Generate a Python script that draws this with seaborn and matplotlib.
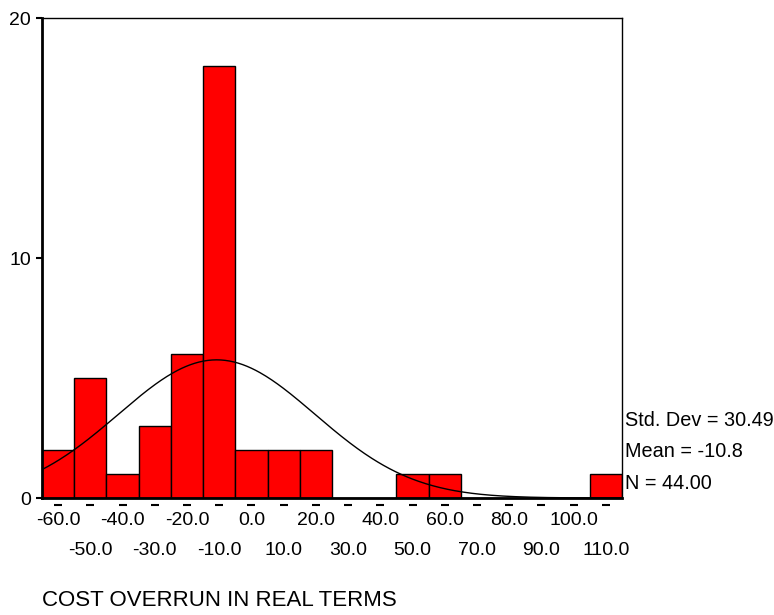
import matplotlib
matplotlib.use("Agg")
import matplotlib.pyplot as plt
import matplotlib.transforms as mtransforms
import numpy as np
import pandas as pd
import seaborn as sns

# bin centres and counts
bin_centers = [-60, -50, -40, -30, -20, -10, 0, 10, 20, 30, 40, 50, 60, 70, 80, 90, 100, 110]
counts = [2, 5, 1, 3, 6, 18, 2, 2, 2, 0, 0, 1, 1, 0, 0, 0, 0, 1]
std_dev = 30.49
mean = -10.8
n_obs = 44.00
bin_width = 10
title = "COST OVERRUN IN REAL TERMS"

values = np.repeat(bin_centers, counts)
df = pd.DataFrame({"overrun": values})
edges = np.arange(bin_centers[0] - bin_width / 2, bin_centers[-1] + bin_width, bin_width)

sns.set_theme(style="white")
plt.rcParams["font.family"] = ["Liberation Sans", "DejaVu Sans"]
plt.rcParams["text.color"] = "black"
plt.rcParams["xtick.color"] = "black"
plt.rcParams["ytick.color"] = "black"

fig = plt.figure(figsize=(7.74, 6.15), dpi=100)
ax = fig.add_axes([0.0543, 0.1902, 0.7493, 0.7805])

sns.histplot(data=df, x="overrun", bins=edges, stat="count", color="#ff0000",
             alpha=1, edgecolor="black", linewidth=1, ax=ax)

# fitted normal curve from reported mean / std dev
xs = np.linspace(edges[0], edges[-1], 400)
ys = n_obs * bin_width * np.exp(-0.5 * ((xs - mean) / std_dev) ** 2) / (std_dev * np.sqrt(2 * np.pi))
sns.lineplot(x=xs, y=ys, color="black", linewidth=1, ax=ax)

ax.set_xlim(edges[0], edges[-1])
ax.set_ylim(0, 20)
ax.set_yticks([0, 10, 20])
ax.set_yticklabels(["0", "10", "20"], fontsize=14)
ax.tick_params(axis="y", length=4, width=1.5, color="black", pad=4, left=True)

major = bin_centers[0::2]
minor = bin_centers[1::2]
ax.set_xticks(major)
ax.set_xticklabels([f"{v:.1f}" for v in major], fontsize=14)
ax.set_xticks(minor, minor=True)
ax.set_xticklabels([f"{v:.1f}" for v in minor], minor=True, fontsize=14)
ax.tick_params(axis="x", which="major", length=0, pad=10)
ax.tick_params(axis="x", which="minor", length=0, pad=32)

# little dashes under each bin centre
trans = mtransforms.blended_transform_factory(ax.transData, ax.transAxes)
ax.plot(bin_centers, [-0.015] * len(bin_centers), linestyle="none", marker="_",
        markersize=6, markeredgewidth=1.5, color="black", transform=trans, clip_on=False)

for side in ["left", "right", "top", "bottom"]:
    ax.spines[side].set_visible(True)
    ax.spines[side].set_color("black")
    ax.spines[side].set_linewidth(1)
ax.spines["left"].set_linewidth(2)
ax.spines["bottom"].set_linewidth(2)
ax.set_xlabel("")
ax.set_ylabel("")
ax.grid(False)

stats = [f"Std. Dev = {std_dev:.2f}", f"Mean = {mean:.1f}", f"N = {n_obs:.2f}"]
for i, s in enumerate(stats):
    fig.text(0.8075, 0.317 - i * 0.0515, s, fontsize=14.3, ha="left", va="center")

fig.text(0.054, 0.024, title, fontsize=16, ha="left", va="center")

fig.savefig("out.png", dpi=100)
plt.close(fig)
